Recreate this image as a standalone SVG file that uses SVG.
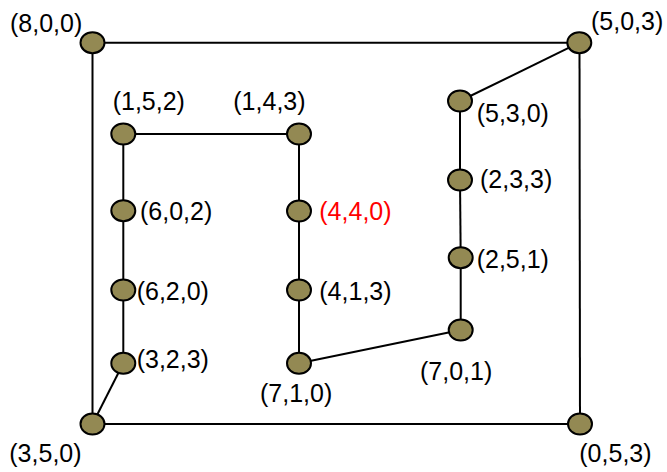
<svg xmlns="http://www.w3.org/2000/svg" width="667" height="472" viewBox="0 0 667 472">
<style>
.e{stroke:#000;stroke-width:2;fill:none}
.n{fill:#938953;stroke:#000;stroke-width:2}
</style>
<rect width="667" height="472" fill="#fff"/>
<g id="connectors">
<line class="e" x1="92.5" y1="42.7" x2="579.3" y2="42.7"/>
<line class="e" x1="92.5" y1="42.7" x2="92.5" y2="424"/>
<line class="e" x1="92.5" y1="424" x2="580" y2="424"/>
<line class="e" x1="579.5" y1="42.7" x2="580" y2="424"/>
<line class="e" x1="579.3" y1="42.7" x2="460" y2="101"/>
<line class="e" x1="460" y1="101" x2="460" y2="180"/>
<line class="e" x1="460" y1="180" x2="460.7" y2="257.7"/>
<line class="e" x1="460.7" y1="257.7" x2="460.7" y2="330"/>
<line class="e" x1="460.7" y1="330" x2="299" y2="363.3"/>
<line class="e" x1="299" y1="363.3" x2="299" y2="134"/>
<line class="e" x1="299" y1="134" x2="123.3" y2="134"/>
<line class="e" x1="123.3" y1="134" x2="123.3" y2="363.3"/>
<line class="e" x1="123.3" y1="363.3" x2="92.5" y2="424"/>
</g>
<g id="nodes" font-family="Liberation Sans, Arial, sans-serif" font-size="25" fill="#000">
<g id="n800"><ellipse class="n" cx="92.5" cy="42.7" rx="12" ry="10.5"/><text x="10" y="32">(8,0,0)</text></g>
<g id="n503"><ellipse class="n" cx="579.3" cy="42.7" rx="12" ry="10.5"/><text x="591" y="30">(5,0,3)</text></g>
<g id="n530"><ellipse class="n" cx="460" cy="101" rx="12" ry="10.5"/><text x="476.7" y="122.3">(5,3,0)</text></g>
<g id="n233"><ellipse class="n" cx="460" cy="180" rx="12" ry="10.5"/><text x="480" y="188.3">(2,3,3)</text></g>
<g id="n251"><ellipse class="n" cx="460.7" cy="257.7" rx="12" ry="10.5"/><text x="476.7" y="268.3">(2,5,1)</text></g>
<g id="n701"><ellipse class="n" cx="460.7" cy="330" rx="12" ry="10.5"/><text x="420" y="380">(7,0,1)</text></g>
<g id="n053"><ellipse class="n" cx="580" cy="424" rx="12" ry="10.5"/><text x="579.3" y="461.7">(0,5,3)</text></g>
<g id="n350"><ellipse class="n" cx="92.5" cy="424" rx="12" ry="10.5"/><text x="9.3" y="461.7">(3,5,0)</text></g>
<g id="n323"><ellipse class="n" cx="123.3" cy="363.3" rx="12" ry="10.5"/><text x="136.7" y="368.3">(3,2,3)</text></g>
<g id="n620"><ellipse class="n" cx="123.3" cy="290" rx="12" ry="10.5"/><text x="136.7" y="300">(6,2,0)</text></g>
<g id="n602"><ellipse class="n" cx="123.3" cy="210.7" rx="12" ry="10.5"/><text x="140" y="220">(6,0,2)</text></g>
<g id="n152"><ellipse class="n" cx="123.3" cy="134" rx="12" ry="10.5"/><text x="112.7" y="110">(1,5,2)</text></g>
<g id="n143"><ellipse class="n" cx="299" cy="134" rx="12" ry="10.5"/><text x="233.3" y="110">(1,4,3)</text></g>
<g id="n440"><ellipse class="n" cx="299" cy="211" rx="12" ry="10.5"/><text x="319.3" y="220" fill="#ff0000">(4,4,0)</text></g>
<g id="n413"><ellipse class="n" cx="299" cy="290" rx="12" ry="10.5"/><text x="319.3" y="300">(4,1,3)</text></g>
<g id="n710"><ellipse class="n" cx="299" cy="363.3" rx="12" ry="10.5"/><text x="260" y="401.7">(7,1,0)</text></g>
</g>
</svg>
